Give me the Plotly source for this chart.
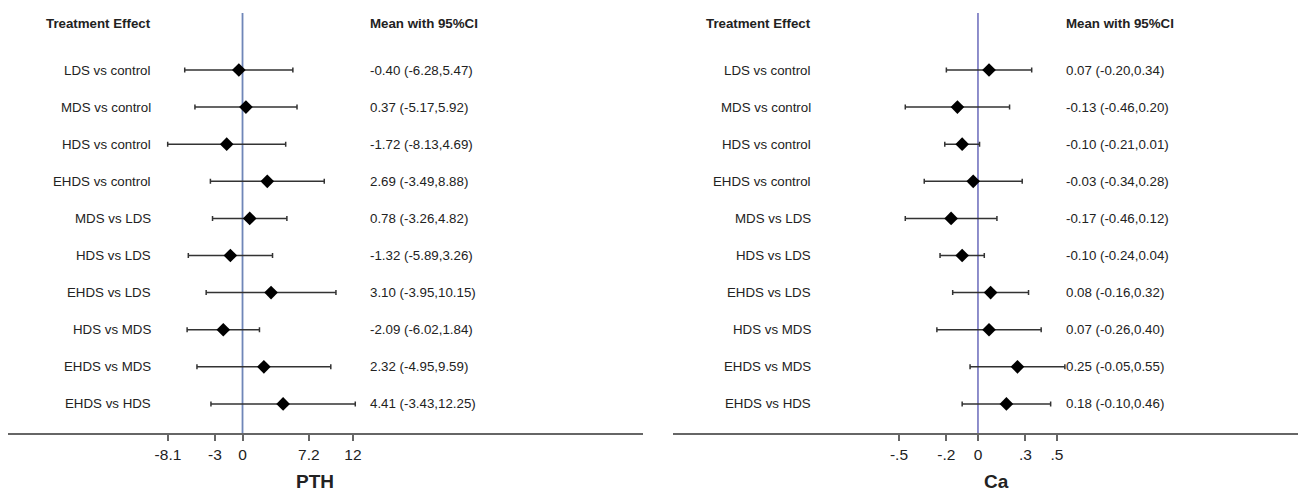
import plotly.graph_objects as go

# page body has an 8px margin; the figure is sized so it fits the 1306x493 window
OFF = 8
W, H = 1306 - OFF, 493 - OFF

comparisons = ["LDS vs control", "MDS vs control", "HDS vs control", "EHDS vs control",
               "MDS vs LDS", "HDS vs LDS", "EHDS vs LDS", "HDS vs MDS", "EHDS vs MDS", "EHDS vs HDS"]

pth_mean = [-0.40, 0.37, -1.72, 2.69, 0.78, -1.32, 3.10, -2.09, 2.32, 4.41]
pth_lo = [-6.28, -5.17, -8.13, -3.49, -3.26, -5.89, -3.95, -6.02, -4.95, -3.43]
pth_hi = [5.47, 5.92, 4.69, 8.88, 4.82, 3.26, 10.15, 1.84, 9.59, 12.25]
pth_labels = ["-0.40 (-6.28,5.47)", "0.37 (-5.17,5.92)", "-1.72 (-8.13,4.69)", "2.69 (-3.49,8.88)",
              "0.78 (-3.26,4.82)", "-1.32 (-5.89,3.26)", "3.10 (-3.95,10.15)", "-2.09 (-6.02,1.84)",
              "2.32 (-4.95,9.59)", "4.41 (-3.43,12.25)"]
pth_ticks = [-8.1, -3, 0, 7.2, 12]
pth_ticktext = ["-8.1", "-3", "0", "7.2", "12"]

ca_mean = [0.07, -0.13, -0.10, -0.03, -0.17, -0.10, 0.08, 0.07, 0.25, 0.18]
ca_lo = [-0.20, -0.46, -0.21, -0.34, -0.46, -0.24, -0.16, -0.26, -0.05, -0.10]
ca_hi = [0.34, 0.20, 0.01, 0.28, 0.12, 0.04, 0.32, 0.40, 0.55, 0.46]
ca_labels = ["0.07 (-0.20,0.34)", "-0.13 (-0.46,0.20)", "-0.10 (-0.21,0.01)", "-0.03 (-0.34,0.28)",
             "-0.17 (-0.46,0.12)", "-0.10 (-0.24,0.04)", "0.08 (-0.16,0.32)", "0.07 (-0.26,0.40)",
             "0.25 (-0.05,0.55)", "0.18 (-0.10,0.46)"]
ca_ticks = [-0.5, -0.2, 0, 0.3, 0.5]
ca_ticktext = ["-.5", "-.2", "0", ".3", ".5"]

FONT = "Liberation Sans, Arial, sans-serif"
TXT = "#222222"
TS = 13.3
rows = list(range(len(comparisons)))

PLOT_H = 425  # plot area height in figure pixels (axis line position)

def px(xref_px):
    return (xref_px - OFF) / W

fig = go.Figure()

def add_panel(mean, lo, hi, xa, ya):
    fig.add_trace(go.Scatter(
        x=mean, y=rows, mode="markers", xaxis=xa, yaxis=ya,
        marker=dict(symbol="diamond", size=10.5, color="black"),
        error_x=dict(type="data", symmetric=False,
                     array=[h - m for h, m in zip(hi, mean)],
                     arrayminus=[m - l for m, l in zip(mean, lo)],
                     color="#333333", thickness=1.5, width=2.5),
        showlegend=False, hoverinfo="skip"))

add_panel(pth_mean, pth_lo, pth_hi, "x", "y")
add_panel(ca_mean, ca_lo, ca_hi, "x2", "y2")

yr = [9.784, -1.671]
axis_common = dict(showline=True, linecolor="#666666", linewidth=2, ticks="outside",
                   ticklen=6, tickwidth=1.5, tickcolor="#666666", showgrid=False,
                   zeroline=False, tickfont=dict(family=FONT, size=15.5, color=TXT))
fig.update_layout(
    width=W, height=H, paper_bgcolor="white", plot_bgcolor="white",
    margin=dict(l=0, r=0, t=0, b=H - PLOT_H),
    xaxis=dict(domain=[px(8), px(643)], range=[-25.48, 43.51], tickvals=pth_ticks,
               ticktext=pth_ticktext, anchor="y", **axis_common),
    xaxis2=dict(domain=[px(673), 1.0], range=[-1.930, 2.076], tickvals=ca_ticks,
                ticktext=ca_ticktext, anchor="y2", **axis_common),
    yaxis=dict(range=yr, visible=False, domain=[0, 1], anchor="x"),
    yaxis2=dict(range=yr, visible=False, domain=[0, 1], anchor="x2"),
)

# reference lines at zero
fig.add_shape(type="line", xref="x", yref="y domain", x0=0, x1=0, y0=0, y1=0.988,
              line=dict(color="#6f86b8", width=1.8), layer="below")
fig.add_shape(type="line", xref="x2", yref="y2 domain", x0=0, x1=0, y0=0, y1=0.988,
              line=dict(color="#8282c6", width=1.8), layer="below")

annots = []
def panel_text(label_x, value_x, values, yref):
    annots.append(dict(x=px(label_x), xref="paper", y=-1.24, yref=yref, text="<b>Treatment Effect</b>",
                       xanchor="right", yanchor="middle", showarrow=False,
                       font=dict(family=FONT, size=TS, color=TXT)))
    annots.append(dict(x=px(value_x), xref="paper", y=-1.24, yref=yref, text="<b>Mean with 95%CI</b>",
                       xanchor="left", yanchor="middle", showarrow=False,
                       font=dict(family=FONT, size=TS, color=TXT)))
    for i, (c, v) in enumerate(zip(comparisons, values)):
        annots.append(dict(x=px(label_x), xref="paper", y=i, yref=yref, text=c,
                           xanchor="right", yanchor="middle", showarrow=False,
                           font=dict(family=FONT, size=TS, color=TXT)))
        annots.append(dict(x=px(value_x), xref="paper", y=i, yref=yref, text=v,
                           xanchor="left", yanchor="middle", showarrow=False,
                           font=dict(family=FONT, size=TS, color=TXT)))

panel_text(153, 368, pth_labels, "y")
panel_text(813, 1064, ca_labels, "y2")

title_y = (PLOT_H - (481 - OFF)) / PLOT_H
annots.append(dict(x=px(315), xref="paper", y=title_y, yref="paper", text="<b>PTH</b>",
                   xanchor="center", yanchor="middle", showarrow=False,
                   font=dict(family=FONT, size=19, color=TXT)))
annots.append(dict(x=px(997), xref="paper", y=title_y, yref="paper", text="<b>Ca</b>",
                   xanchor="center", yanchor="middle", showarrow=False,
                   font=dict(family=FONT, size=19, color=TXT)))
fig.update_layout(annotations=annots)

fig.write_html("out.html", config={"displayModeBar": False})
